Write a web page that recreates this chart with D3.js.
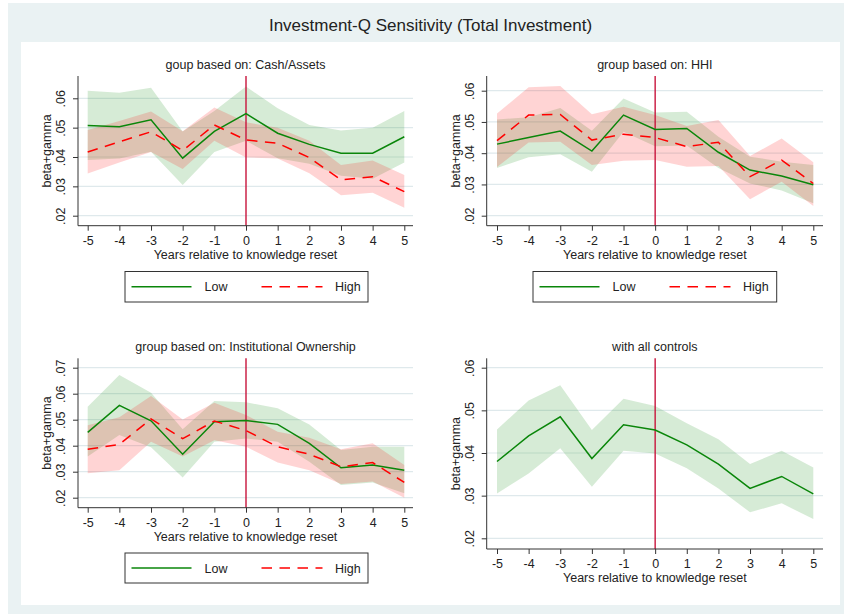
<!DOCTYPE html>
<html>
<head>
<meta charset="utf-8">
<script src="https://cdn.jsdelivr.net/npm/d3@7"></script>
<style>
  body { margin: 0; background: #fff; }
  text { font-family: "Liberation Sans", Arial, Helvetica, sans-serif; fill: #222; }
</style>
</head>
<body>
<svg id="chart" width="844" height="614"></svg>
<script>
// ---- data ---------------------------------------------------------------
const years = [-5, -4, -3, -2, -1, 0, 1, 2, 3, 4, 5];

// group based on Cash/Assets
const cashLow    = [.0507, .0503, .0527, .0396, .0487, .0548, .0481, .0443, .0413, .0413, .0469];
const cashLowHi  = [.0626, .0619, .0636, .0487, .0557, .0640, .0566, .0509, .0490, .0500, .0557];
const cashLowLo  = [.0390, .0395, .0418, .0305, .0417, .0455, .0396, .0377, .0336, .0326, .0381];
const cashHigh   = [.0417, .0452, .0486, .0422, .0509, .0458, .0447, .0398, .0322, .0333, .0282];
const cashHighHi = [.0492, .0523, .0555, .0488, .0569, .0518, .0500, .0455, .0373, .0388, .0339];
const cashHighLo = [.0344, .0381, .0417, .0359, .0455, .0398, .0395, .0345, .0270, .0278, .0227];

// group based on HHI
const hhiLow    = [.0429, .0450, .0471, .0407, .0522, .0476, .0479, .0403, .0346, .0327, .0299];
const hhiLowHi  = [.0508, .0515, .0545, .0472, .0575, .0530, .0533, .0453, .0389, .0373, .0362];
const hhiLowLo  = [.0353, .0387, .0397, .0341, .0469, .0422, .0425, .0353, .0303, .0281, .0240];
const hhiHigh   = [.0440, .0522, .0524, .0442, .0461, .0450, .0421, .0435, .0325, .0378, .0303];
const hhiHighHi = [.0527, .0611, .0615, .0525, .0549, .0522, .0487, .0506, .0391, .0447, .0371];
const hhiHighLo = [.0356, .0434, .0437, .0362, .0376, .0378, .0357, .0359, .0253, .0309, .0231];

// group based on Institutional Ownership
const ioLow    = [.0451, .0555, .0496, .0367, .0492, .0497, .0482, .0409, .0315, .0326, .0306];
const ioLowHi  = [.0550, .0672, .0604, .0463, .0572, .0567, .0544, .0482, .0383, .0396, .0396];
const ioLowLo  = [.0358, .0441, .0394, .0278, .0415, .0428, .0415, .0338, .0249, .0258, .0217];
const ioHigh   = [.0386, .0405, .0503, .0427, .0495, .0458, .0396, .0367, .0319, .0335, .0259];
const ioHighHi = [.0479, .0509, .0591, .0501, .0565, .0518, .0454, .0431, .0386, .0409, .0326];
const ioHighLo = [.0294, .0306, .0415, .0358, .0421, .0396, .0335, .0306, .0253, .0262, .0200];

// with all controls
const allCtl   = [.0380, .0440, .0485, .0387, .0466, .0454, .0419, .0374, .0317, .0345, .0304];
const allCtlHi = [.0455, .0523, .0559, .0454, .0527, .0510, .0470, .0432, .0374, .0405, .0366];
const allCtlLo = [.0305, .0352, .0411, .0321, .0405, .0399, .0364, .0317, .0261, .0282, .0245];

const yTicks6 = [.02, .03, .04, .05, .06];
const yTicks7 = [.02, .03, .04, .05, .06, .07];

const mainTitle = "Investment-Q Sensitivity (Total Investment)";
const panelTitles = [
  "goup based on: Cash/Assets",
  "group based on: HHI",
  "group based on: Institutional Ownership",
  "with all controls"
];
const xTitle = "Years relative to knowledge reset";
const yTitle = "beta+gamma";
const legendLabels = ["Low", "High"];

// ---- styles -------------------------------------------------------------
const GREEN = "#0a860a";
const RED = "#ff0000";
const XLINE = "#c8143c";
const GRID = "#dfe9ec";
const AXIS = "#333";
const FS = 12.5;

const lowStyle  = { color: GREEN, dash: null };
const highStyle = { color: RED, dash: "10.5,7.5" };

// ---- layout -------------------------------------------------------------
const panels = [
  { title: panelTitles[0], box: { l: 78, r: 413, t: 76, b: 225.7 },
    xr: [87.7, 404.3], yd: [.02, .06], yr: [215.7, 98.3], ticks: yTicks6,
    series: [
      { mean: cashLow, lo: cashLowLo, hi: cashLowHi, ...lowStyle },
      { mean: cashHigh, lo: cashHighLo, hi: cashHighHi, ...highStyle }
    ],
    legend: { l: 125, r: 368, t: 271.5, b: 302 } },
  { title: panelTitles[1], box: { l: 486.7, r: 823, t: 76, b: 225.7 },
    xr: [497, 813.3], yd: [.02, .06], yr: [215.7, 90.7], ticks: yTicks6,
    series: [
      { mean: hhiLow, lo: hhiLowLo, hi: hhiLowHi, ...lowStyle },
      { mean: hhiHigh, lo: hhiHighLo, hi: hhiHighHi, ...highStyle }
    ],
    legend: { l: 533, r: 776.7, t: 271.5, b: 302 } },
  { title: panelTitles[2], box: { l: 78, r: 413, t: 358.3, b: 507.7 },
    xr: [87.7, 404.3], yd: [.02, .07], yr: [497.7, 367.7], ticks: yTicks7,
    series: [
      { mean: ioLow, lo: ioLowLo, hi: ioLowHi, ...lowStyle },
      { mean: ioHigh, lo: ioHighLo, hi: ioHighHi, ...highStyle }
    ],
    legend: { l: 125, r: 368, t: 553, b: 583 } },
  { title: panelTitles[3], box: { l: 486.7, r: 823, t: 358.3, b: 549 },
    xr: [497, 813.3], yd: [.02, .06], yr: [538.3, 367.7], ticks: yTicks6,
    series: [
      { mean: allCtl, lo: allCtlLo, hi: allCtlHi, ...lowStyle }
    ],
    legend: null }
];

// ---- drawing ------------------------------------------------------------
const svg = d3.select("#chart");

// outer frame and white plotting region
svg.append("rect").attr("x", 8).attr("y", 3).attr("width", 836).attr("height", 611).attr("fill", "#eaf2f3");
svg.append("rect").attr("x", 21).attr("y", 42).attr("width", 819).attr("height", 563).attr("fill", "#fff");

svg.append("text")
  .attr("x", 430.5).attr("y", 31)
  .attr("text-anchor", "middle")
  .style("font-size", "17px")
  .text(mainTitle);

const fmtY = d => d3.format(".2f")(d).replace(/^0/, "");

panels.forEach(p => {
  const g = svg.append("g");
  const { l, r, t, b } = p.box;
  const x = d3.scaleLinear().domain([-5, 5]).range(p.xr);
  const y = d3.scaleLinear().domain(p.yd).range(p.yr);

  // horizontal grid
  g.append("g").selectAll("line").data(p.ticks).join("line")
    .attr("x1", l).attr("x2", r)
    .attr("y1", d => y(d)).attr("y2", d => y(d))
    .attr("stroke", GRID).attr("stroke-width", 1.2);

  // confidence bands
  p.series.forEach(s => {
    const area = d3.area()
      .x((d, i) => x(years[i]))
      .y0((d, i) => y(s.lo[i]))
      .y1((d, i) => y(s.hi[i]));
    g.append("path").datum(s.mean)
      .attr("d", area)
      .attr("fill", s.color).attr("fill-opacity", 0.17);
  });

  // reference line at year 0
  g.append("line")
    .attr("x1", x(0)).attr("x2", x(0)).attr("y1", t).attr("y2", b)
    .attr("stroke", XLINE).attr("stroke-width", 1.4);

  // point estimates
  p.series.forEach(s => {
    const line = d3.line().x((d, i) => x(years[i])).y(d => y(d));
    g.append("path").datum(s.mean)
      .attr("d", line)
      .attr("fill", "none")
      .attr("stroke", s.color).attr("stroke-width", 1.5)
      .attr("stroke-dasharray", s.dash);
  });

  // axes
  const ya = g.append("g").attr("transform", `translate(${l},0)`)
    .call(d3.axisLeft(y).tickValues(p.ticks).tickSize(5).tickFormat(fmtY));
  ya.select(".domain").remove();
  ya.selectAll(".tick line").attr("stroke", AXIS);
  ya.selectAll(".tick text")
    .attr("x", null).attr("dy", null)
    .attr("text-anchor", "middle")
    .attr("transform", "translate(-13,0) rotate(-90)")
    .style("font-size", FS + "px").style("font-family", null).attr("fill", "#222");

  const xa = g.append("g").attr("transform", `translate(0,${b})`)
    .call(d3.axisBottom(x).tickValues(years).tickSize(5).tickFormat(d3.format("d")));
  xa.select(".domain").remove();
  xa.selectAll(".tick line").attr("stroke", AXIS);
  xa.selectAll(".tick text")
    .attr("y", 19).attr("dy", null)
    .style("font-size", FS + "px").style("font-family", null).attr("fill", "#222")
    .text(d => d < 0 ? "-" + Math.abs(d) : d);

  g.append("line").attr("x1", l).attr("x2", l).attr("y1", t).attr("y2", b)
    .attr("stroke", AXIS).attr("stroke-width", 1);
  g.append("line").attr("x1", l).attr("x2", r).attr("y1", b).attr("y2", b)
    .attr("stroke", AXIS).attr("stroke-width", 1);

  // titles
  g.append("text")
    .attr("x", (l + r) / 2).attr("y", t - 7)
    .attr("text-anchor", "middle").style("font-size", FS + "px")
    .text(p.title);
  g.append("text")
    .attr("x", (l + r) / 2).attr("y", b + 33)
    .attr("text-anchor", "middle").style("font-size", FS + "px")
    .text(xTitle);
  g.append("text")
    .attr("transform", `translate(${l - 27},${(t + b) / 2}) rotate(-90)`)
    .attr("text-anchor", "middle").style("font-size", FS + "px")
    .text(yTitle);

  // legend
  if (p.legend) {
    const L = p.legend;
    const my = (L.t + L.b) / 2;
    g.append("rect")
      .attr("x", L.l).attr("y", L.t)
      .attr("width", L.r - L.l).attr("height", L.b - L.t)
      .attr("fill", "#fff").attr("stroke", AXIS).attr("stroke-width", 1);
    const items = [
      { x0: 6.5, x1: 66.5, tx: 79.5, s: p.series[0] },
      { x0: 136.5, x1: 197.5, tx: 210, s: p.series[1] }
    ];
    items.forEach((it, i) => {
      g.append("line")
        .attr("x1", L.l + it.x0).attr("x2", L.l + it.x1)
        .attr("y1", my).attr("y2", my)
        .attr("stroke", it.s.color).attr("stroke-width", 1.5)
        .attr("stroke-dasharray", it.s.dash);
      g.append("text")
        .attr("x", L.l + it.tx).attr("y", my + 4.5)
        .style("font-size", FS + "px")
        .text(legendLabels[i]);
    });
  }
});
</script>
</body>
</html>
